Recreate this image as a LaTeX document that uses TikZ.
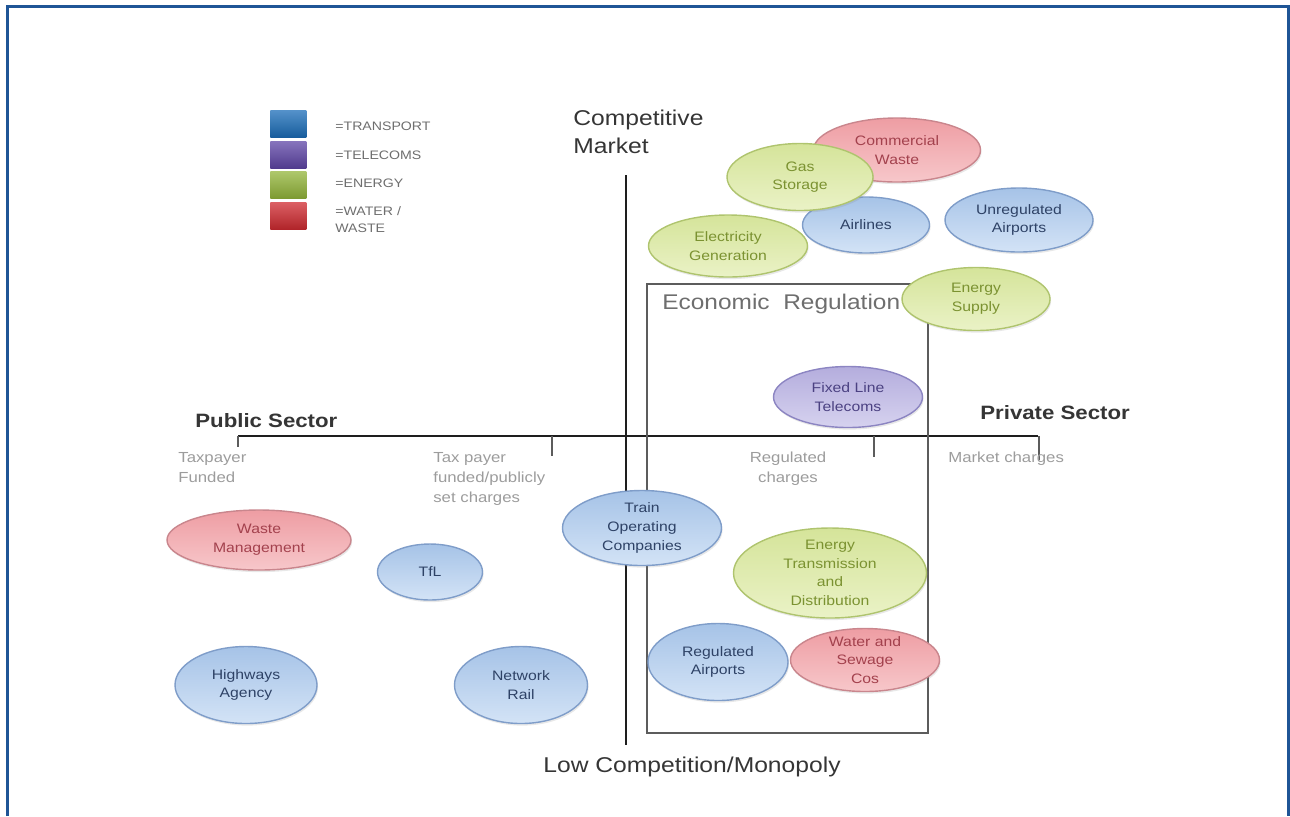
\documentclass[tikz,border=0pt]{standalone}
\usepackage{fontspec}
\setmainfont[FakeStretch=1.15]{Liberation Sans}
\usetikzlibrary{shapes.geometric,shadows}

\definecolor{frameblue}{HTML}{1F5596}
\definecolor{axisink}{HTML}{1E1E1E}
\definecolor{boxgray}{HTML}{5C5C5C}
\definecolor{notegray}{HTML}{9C9C9C}
\definecolor{leggray}{HTML}{6E6E6E}
\definecolor{legtransport}{HTML}{1B6DB8}
\definecolor{legtelecoms}{HTML}{5E45A6}
\definecolor{legenergy}{HTML}{93B53A}
\definecolor{legwater}{HTML}{CF2A30}
% bubble fills: top, bottom, outline, text
\definecolor{trtop}{HTML}{A6C3E7}\definecolor{trbot}{HTML}{D3E3F6}
\definecolor{trdraw}{HTML}{7F9DC9}\definecolor{trtext}{HTML}{2E4266}
\definecolor{tctop}{HTML}{B4ADDD}\definecolor{tcbot}{HTML}{D6D2EF}
\definecolor{tcdraw}{HTML}{8C85C2}\definecolor{tctext}{HTML}{4B4182}
\definecolor{entop}{HTML}{D5E49A}\definecolor{enbot}{HTML}{EAF2C6}
\definecolor{endraw}{HTML}{AFC46E}\definecolor{entext}{HTML}{7B9231}
\definecolor{wwtop}{HTML}{EE9DA3}\definecolor{wwbot}{HTML}{F7C7CA}
\definecolor{wwdraw}{HTML}{C9868D}\definecolor{wwtext}{HTML}{A3414D}

\tikzset{
  wh/.style 2 args={minimum width=#1*0.02cm,minimum height=#2*0.02cm},
  bubble/.style={ellipse,draw,line width=0.8pt,inner sep=0pt,
    drop shadow={opacity=0.18,shadow xshift=0.6pt,shadow yshift=-1.2pt}},
  bubtext/.style={align=center,inner sep=0pt,font=\fontsize{7.8}{10.6}\selectfont},
  transport/.style={bubble,draw=trdraw,top color=trtop,bottom color=trbot,
    label={[bubtext,text=trtext]center:#1}},
  telecoms/.style={bubble,draw=tcdraw,top color=tctop,bottom color=tcbot,
    label={[bubtext,text=tctext]center:#1}},
  energy/.style={bubble,draw=endraw,top color=entop,bottom color=enbot,
    label={[bubtext,text=entext]center:#1}},
  water/.style={bubble,draw=wwdraw,top color=wwtop,bottom color=wwbot,
    label={[bubtext,text=wwtext]center:#1}},
  legkey/.style={anchor=north west,inner sep=0pt,minimum width=0.72cm,minimum height=0.54cm},
  legtext/.style={anchor=west,inner sep=0pt,text=leggray,font=\fontsize{7}{9.6}\selectfont},
  axislabel/.style={inner sep=0pt,text=axisink!90!white,font=\fontsize{12.2}{15.9}\selectfont},
  sector/.style={inner sep=0pt,anchor=base west,text=axisink!90!white,font=\fontsize{11}{13}\selectfont\bfseries},
  note/.style={inner sep=0pt,text=notegray,font=\fontsize{8.3}{11.3}\selectfont}
}

\begin{document}
\begin{tikzpicture}[x=0.02cm,y=-0.02cm]
\useasboundingbox (0,0) rectangle (1290,816);

% page frame, open at the bottom
\draw[frameblue,line width=1.6pt] (7.5,816) |- (1288.5,6.5) -- (1288.5,816);

% legend
\foreach \k/\y/\c in {tr/110/legtransport,tc/141/legtelecoms,en/171/legenergy,ww/202/legwater}
  \node[legkey,top color=\c!75!white,bottom color=\c!85!black] (key-\k) at (270,\y) {};
\node[legtext] (lab-tr) at (335,126) {=TRANSPORT};
\node[legtext] (lab-tc) at (335,155) {=TELECOMS};
\node[legtext] (lab-en) at (335,183) {=ENERGY};
\node[legtext,align=left] (lab-ww) at (335,220) {=WATER /\\WASTE};

% axes
\coordinate (ytop) at (626,175);
\coordinate (ybot) at (626,745);
\coordinate (xleft) at (238,436);
\coordinate (xright) at (1038,436);
\draw[axisink,line width=1.1pt] (ytop) -- (ybot);
\draw[axisink,line width=1.1pt] (xleft) -- (xright);
\foreach \x/\l in {238/11,552/20,874/21,1039/24}
  \draw[boxgray,line width=0.8pt] (\x,436) -- (\x,436+\l);

% regulated area
\draw[boxgray,line width=1.2pt] (647,284) rectangle (928,733);
\node[inner sep=0pt,anchor=base west,text=leggray,font=\fontsize{12.1}{14}\selectfont]
  (reg) at (662,309) {Economic\ \ Regulation};

% axis and band labels
\node[axislabel,anchor=west,align=left] (compet) at (573,132) {Competitive\\Market};
\node[axislabel,anchor=base west] (monop) at (543,772) {Low Competition/Monopoly};
\node[sector] (public) at (195,427) {Public Sector};
\node[sector] (private) at (980,419) {Private Sector};
\node[note,anchor=north west,align=left] (taxfund) at (178,452) {Taxpayer\\Funded};
\node[note,anchor=north west,align=left] (taxset) at (433,452) {Tax payer\\funded/publicly\\set charges};
\node[note,anchor=north,align=center] (regch) at (788,452) {Regulated\\charges};
\node[note,anchor=north west] (mktch) at (948,452) {Market charges};

% competitive market
\node[water={Commercial\\Waste},wh={167}{64}] (cw) at (897,150) {};
\node[transport={Airlines},wh={127}{56}] (al) at (866,225) {};
\node[energy={Gas\\Storage},wh={146}{67}] (gs) at (800,177) {};
\node[transport={Unregulated\\Airports},wh={148}{64}] (ua) at (1019,220) {};
\node[energy={Electricity\\Generation},wh={159}{62}] (eg) at (728,246) {};
\node[energy={Energy\\Supply},wh={148}{63}] (es) at (976,299) {};

% regulated / monopoly
\node[telecoms={Fixed Line\\Telecoms},wh={149}{61}] (fl) at (848,397) {};
\node[transport={Train\\Operating\\Companies},wh={159}{75}] (toc) at (642,528) {};
\node[energy={Energy\\Transmission\\and\\Distribution},wh={193}{90}] (etd) at (830,573) {};
\node[transport={Regulated\\Airports},wh={140}{77}] (ra) at (718,662) {};
\node[water={Water and\\Sewage\\Cos},wh={149}{63}] (ws) at (865,660) {};

% public sector
\node[water={Waste\\Management},wh={184}{60}] (wm) at (259,540) {};
\node[transport={TfL},wh={105}{56}] (tfl) at (430,572) {};
\node[transport={Highways\\Agency},wh={142}{77}] (ha) at (246,685) {};
\node[transport={Network\\Rail},wh={133}{77}] (nr) at (521,685) {};
\end{tikzpicture}
\end{document}
